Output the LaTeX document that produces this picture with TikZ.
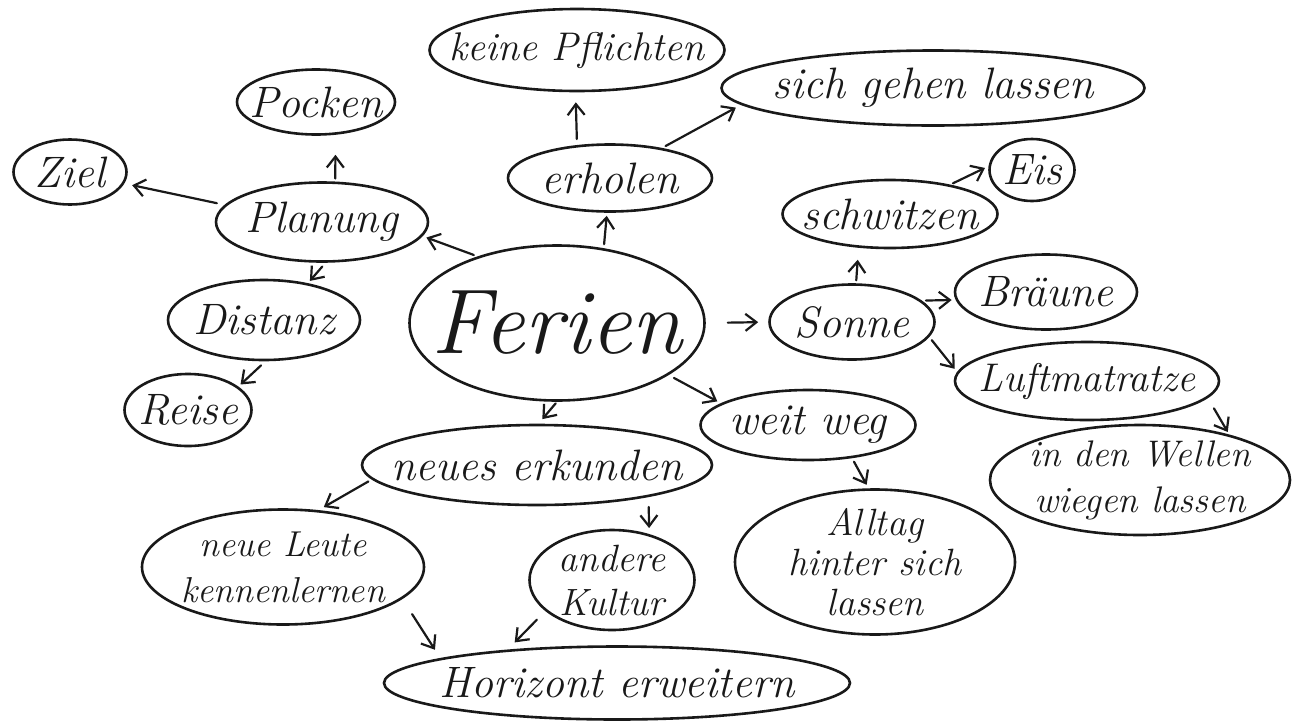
\documentclass[tikz,border=0pt]{standalone}
\usetikzlibrary{shapes.geometric,arrows.meta}
\begin{document}
\begin{tikzpicture}[x=1pt,y=-1pt,
  bub/.style={draw=black!90, ellipse, line width=2.6pt, inner sep=0pt},
  lab/.style={inner sep=0pt, align=center, text=black!90, font=\fontsize{44}{46}\selectfont\itshape},
  arr/.style={draw=black!90, line width=2.2pt, -{Straight Barb[length=11pt,width=17pt]}, line cap=round},
]
\useasboundingbox[fill=white] (0,0) rectangle (1294,721);
% bubbles
\node[bub, minimum width=295pt, minimum height=155pt] (ferien) at (557,323) {};
\node[bub, minimum width=295pt, minimum height=82pt] (keine) at (577,50) {};
\node[bub, minimum width=423pt, minimum height=75pt] (sich) at (933,88) {};
\node[bub, minimum width=204pt, minimum height=67pt] (erholen) at (610,178) {};
\node[bub, minimum width=158pt, minimum height=65pt] (pocken) at (316,102) {};
\node[bub, minimum width=113pt, minimum height=65pt] (ziel) at (70,172) {};
\node[bub, minimum width=212pt, minimum height=79pt] (planung) at (322,222) {};
\node[bub, minimum width=192pt, minimum height=80pt] (distanz) at (264,320) {};
\node[bub, minimum width=127pt, minimum height=72pt] (reise) at (188,410) {};
\node[bub, minimum width=215pt, minimum height=68pt] (schwitzen) at (890,214) {};
\node[bub, minimum width=85pt, minimum height=62pt] (eis) at (1032,170) {};
\node[bub, minimum width=165pt, minimum height=75pt] (sonne) at (852,322) {};
\node[bub, minimum width=182pt, minimum height=75pt] (braeune) at (1046,292) {};
\node[bub, minimum width=264pt, minimum height=78pt] (luft) at (1087,381) {};
\node[bub, minimum width=300pt, minimum height=110pt] (wellen) at (1140,480) {};
\node[bub, minimum width=215pt, minimum height=70pt] (weit) at (808,425) {};
\node[bub, minimum width=280pt, minimum height=145pt] (alltag) at (875,562) {};
\node[bub, minimum width=350pt, minimum height=80pt] (neues) at (537,465) {};
\node[bub, minimum width=282pt, minimum height=115pt] (leute) at (283,567) {};
\node[bub, minimum width=165pt, minimum height=100pt] (kultur) at (612,580) {};
\node[bub, minimum width=466pt, minimum height=73pt] (horizont) at (617,683) {};
% texts
\node[lab, font=\fontsize{92}{96}\selectfont\itshape] (ferien-t) at (ferien) {Ferien};
\node[lab, font=\fontsize{40}{44}\selectfont\itshape] (keine-t) at (keine) {keine Pflichten};
\node[lab] (sich-t) at (sich) {sich gehen lassen};
\node[lab] (erholen-t) at (erholen) {erholen};
\node[lab] (pocken-t) at (pocken) {Pocken};
\node[lab] (ziel-t) at (ziel) {Ziel};
\node[lab] (planung-t) at (planung) {Planung};
\node[lab] (distanz-t) at (distanz) {Distanz};
\node[lab] (reise-t) at (reise) {Reise};
\node[lab] (schwitzen-t) at (schwitzen) {schwitzen};
\node[lab] (eis-t) at (eis) {Eis};
\node[lab] (sonne-t) at (sonne) {Sonne};
\node[lab] (braeune-t) at (braeune) {Bräune};
\node[lab, font=\fontsize{40}{44}\selectfont\itshape] (luft-t) at (luft) {Luftmatratze};
\node[lab, font=\fontsize{37}{46}\selectfont\itshape] (wellen-t) at (wellen) {in den Wellen\\wiegen lassen};
\node[lab] (weit-t) at (weit) {weit weg};
\node[lab, font=\fontsize{38}{40}\selectfont\itshape] (alltag-t) at (alltag) {Alltag\\hinter sich\\lassen};
\node[lab] (neues-t) at (neues) {neues erkunden};
\node[lab, font=\fontsize{36}{46}\selectfont\itshape] (leute-t) at (leute) {neue Leute\\kennenlernen};
\node[lab, font=\fontsize{38}{44}\selectfont\itshape] (kultur-t) at (kultur) {andere\\Kultur};
\node[lab] (horizont-t) at (horizont) {Horizont erweitern};
% arrows
\draw[arr, shorten <=4pt, shorten >=3pt] (ferien.58) -- (erholen.-95);
\draw[arr, shorten <=6pt, shorten >=10pt] (erholen.135) -- (keine.-92);
\draw[arr, shorten <=4pt, shorten >=6pt] (erholen.30) -- (sich.185);
\draw[arr, shorten <=4pt, shorten >=4pt] (ferien.140) -- (planung.-8);
\draw[arr, shorten <=3pt, shorten >=20pt] (planung.72) -- (pocken.-59);
\draw[arr, shorten <=8pt, shorten >=8pt] (planung.170) -- (ziel.-12);
\draw[arr, shorten <=5pt, shorten >=3pt] (planung.-85) -- (distanz.40);
\draw[arr, shorten <=6pt, shorten >=3pt] (distanz.-88) -- (reise.25);
\draw[arr, shorten <=22pt, shorten >=10pt] (ferien.0) -- (sonne.180);
\draw[arr, shorten <=3pt, shorten >=12pt] (sonne.84) -- (schwitzen.-133);
\draw[arr, shorten <=3pt, shorten >=4pt] (schwitzen.26) -- (eis.175);
\draw[arr, shorten <=4pt, shorten >=4pt] (sonne.17) -- (braeune.185);
\draw[arr, shorten <=4pt, shorten >=4pt] (sonne.-11) -- (luft.176);
\draw[arr, shorten <=12pt, shorten >=3pt] (luft.-8) -- (wellen.27);
\draw[arr, shorten <=6pt, shorten >=4pt] (ferien.-25) -- (weit.166);
\draw[arr, shorten <=2pt, shorten >=6pt] (ferien.-90) -- (neues.88);
\draw[arr, shorten <=4pt, shorten >=4pt] (weit.-37) -- (alltag.95);
\draw[arr, shorten <=4pt, shorten >=6pt] (neues.185) -- (leute.58);
\draw[arr, shorten <=10pt, shorten >=6pt] (neues.-16) -- (kultur.51);
\draw[arr, shorten <=18pt, shorten >=10pt] (leute.-15) -- (horizont.172);
\draw[arr, shorten <=12pt, shorten >=10pt] (kultur.-155) -- (horizont.163);
\end{tikzpicture}
\end{document}
